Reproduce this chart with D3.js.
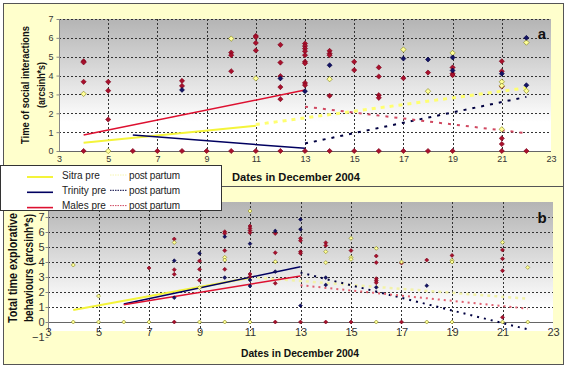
<!DOCTYPE html>
<html>
<head>
<meta charset="utf-8">
<script src="https://cdn.jsdelivr.net/npm/d3@7"></script>
<style>
  body { margin: 0; background: #fff; }
  svg text { font-family: "Liberation Sans", Arial, sans-serif; }
</style>
</head>
<body>
<div id="chart"></div>
<script>
// x ticks (dates in December 2004)
var dateTicks = [3, 5, 7, 9, 11, 13, 15, 17, 19, 21, 23];
var socialTicks = [0, 1, 2, 3, 4, 5, 6, 7];
var exploreTicks = [-1, 0, 1, 2, 3, 4, 5, 6, 7];

// panel a: time of social interactions, [date, value]
var socialMales = [
    [4, 4.76], [4, 4.7], [4, 3.67], [4, 0],
    [5, 3.67], [5, 3.2], [5, 1.67],
    [6, 0], [7, 0],
    [8, 3.72], [8, 3.45], [8, 0],
    [9, 0],
    [10, 5.22], [10, 5.08], [10, 4.23], [10, 0],
    [11, 6.1], [11, 6.04], [11, 5.73], [11, 5.33], [11, 0],
    [12, 5.63], [12, 4.69], [12, 3.97], [12, 3.39], [12, 2.75], [12, 0],
    [13, 5.7], [13, 5.57], [13, 5.43], [13, 5.29], [13, 5.08], [13, 4.73], [13, 4.65], [13, 3.61], [13, 3.49], [13, 0],
    [14, 5.31], [14, 5.17], [14, 5.08], [14, 2.93], [14, 0],
    [15, 4.73], [15, 4.29], [15, 0],
    [16, 4.43], [16, 3.95], [16, 2.96], [16, 2.82], [16, 0],
    [17, 3.86], [17, 0],
    [18, 4.16], [18, 0],
    [19, 4.43], [19, 4.1], [19, 4.02], [19, 0],
    [21, 4.76], [21, 4.23], [21, 3.42], [21, 0.67], [21, 0.37], [21, 0],
    [22, 0]
];
var socialTrinity = [
    [8, 3.24], [12, 3.85], [13, 3.17], [14, 4.55], [17, 4.9], [18, 4.85],
    [19, 4.96], [19, 4.27], [21, 4.1], [22, 6.0], [22, 3.49]
];
var socialSitra = [
    [4, 3.03], [5, 0], [10, 5.96], [11, 3.85], [14, 3.81], [17, 5.38], [18, 3.17],
    [19, 5.2], [21, 3.67], [21, 3.46], [21, 1.15], [22, 5.75], [22, 3.19]
];
// trend lines, [start, end]
var socialSitraPre = [[4, 0.44], [11, 1.34]];
var socialSitraPost = [[11, 1.4], [22, 3.35]];
var socialTrinityPre = [[6, 0.85], [13, 0.14]];
var socialTrinityPost = [[13, 0.4], [22, 2.87]];
var socialMalesPre = [[4, 0.85], [13, 3.23]];
var socialMalesPost = [[13, 2.35], [22, 0.94]];

// panel b: total time explorative behaviours, [date, value]
var exploreMales = [
    [7, 3.6], [8, 5.53], [8, 3.49], [8, 3.18], [8, 0],
    [9, 4.07], [9, 3.51], [9, 2.78],
    [10, 6.02], [10, 5.9], [10, 4.76], [10, 3.51],
    [11, 6.4], [11, 6.25], [11, 6.1], [11, 5.95], [11, 3.2], [11, 3.02],
    [12, 5.9], [12, 4.62], [12, 2.58], [12, 0],
    [13, 5.58], [13, 5.42], [13, 4.69], [13, 4.58], [13, 0],
    [14, 5.29], [14, 5.1], [14, 0],
    [15, 4.76], [15, 0],
    [16, 4.4], [16, 3.96], [16, 2.89], [16, 2.75], [16, 2.62],
    [17, 3.93], [17, 0],
    [18, 4.13],
    [19, 4.44],
    [21, 4.8], [21, 4.22], [21, 3.42], [21, 0.31]
];
var exploreTrinity = [
    [8, 4.09], [8, 1.62], [9, 4.58], [10, 5.69], [10, 2.96], [11, 5.22], [11, 2.8], [11, 2.4],
    [12, 6.07], [12, 3.36], [13, 6.84], [13, 6.18], [13, 1.09], [14, 2.96], [14, 2.47],
    [16, 2.31], [18, 2.42]
];
var exploreSitra = [
    [4, 3.8], [4, 0], [5, 1.73], [5, 0], [6, 0], [7, 0], [8, 5.3], [9, 2.29], [9, 0],
    [10, 4.31], [10, 4.13], [10, 0], [11, 7.4], [11, 0], [12, 4.02], [14, 4.69], [14, 3.96],
    [15, 5.58], [15, 4.31], [15, 4.18], [16, 4.91], [16, 0], [17, 4.0], [18, 0],
    [19, 4.11], [19, 4.0], [19, 0], [21, 5.31], [21, 0], [22, 3.64], [22, 0]
];
var exploreSitraPre = [[4, 0.8], [11, 2.95]];
var exploreSitraPost = [[11, 3.0], [22, 1.55]];
var exploreTrinityPre = [[6, 1.2], [13, 3.69]];
var exploreTrinityPost = [[13, 3.29], [22, -0.49]];
var exploreMalesPre = [[6, 1.15], [13, 3.07]];
var exploreMalesPost = [[13, 2.45], [22, 0.89]];

var legendRows = ["Sitra pre", "Trinity pre", "Males pre"];

var W = 574, H = 368;
var svg = d3.select("#chart").append("svg").attr("width", W).attr("height", H);

// square diamond like the Excel marker
var diamond = {
    draw: function (ctx, size) {
        var r = Math.sqrt(size / 2);
        ctx.moveTo(0, -r); ctx.lineTo(r, 0); ctx.lineTo(0, r); ctx.lineTo(-r, 0); ctx.closePath();
    }
};

var styles = {
    males: { fill: "#a8102c", stroke: "#780018" },
    trinity: { fill: "#141464", stroke: "#000040" },
    sitra: { fill: "#ffff99", stroke: "#7f7f10" }
};

var defs = svg.append("defs");
function gradient(id, stop) {
    var g = defs.append("linearGradient").attr("id", id)
        .attr("x1", 0).attr("y1", 0).attr("x2", 0).attr("y2", 1);
    g.append("stop").attr("offset", "0%").attr("stop-color", "#b4b4b4");
    g.append("stop").attr("offset", stop).attr("stop-color", "#ffffff");
}
gradient("plotA", "78%");
gradient("plotB", "82%");

// panel frames
svg.append("rect").attr("x", 3.5).attr("y", 3.5).attr("width", 560).attr("height", 183)
    .attr("fill", "#ffffcc").attr("stroke", "#555");
svg.append("rect").attr("x", 3.5).attr("y", 186.5).attr("width", 560).attr("height", 178)
    .attr("fill", "#ffffcc").attr("stroke", "#555");

function drawPanel(p) {
    var g = svg.append("g");
    var x = p.x, y = p.y;

    g.append("rect")
        .attr("x", x.range()[0]).attr("y", y.range()[1])
        .attr("width", x.range()[1] - x.range()[0])
        .attr("height", p.plotBottom - y.range()[1])
        .attr("fill", "url(#" + p.grad + ")");

    // horizontal grid
    g.selectAll(".hgrid").data(p.yTicks.filter(function (d) { return d > 0; }))
        .enter().append("line")
        .attr("x1", x.range()[0]).attr("x2", x.range()[1])
        .attr("y1", function (d) { return Math.round(y(d)) + 0.5; })
        .attr("y2", function (d) { return Math.round(y(d)) + 0.5; })
        .attr("stroke", "#333").attr("stroke-dasharray", "2,2");

    // vertical grid
    g.selectAll(".vgrid").data(dateTicks.slice(1, -1))
        .enter().append("line")
        .attr("x1", function (d) { return Math.round(x(d)) + 0.5; })
        .attr("x2", function (d) { return Math.round(x(d)) + 0.5; })
        .attr("y1", y.range()[1]).attr("y2", p.plotBottom)
        .attr("stroke", "#333").attr("stroke-dasharray", "2,2");

    // axis lines
    g.append("line").attr("x1", x.range()[0]).attr("x2", x.range()[1])
        .attr("y1", Math.round(y(0)) + 0.5).attr("y2", Math.round(y(0)) + 0.5)
        .attr("stroke", "#666");
    g.append("line").attr("x1", x.range()[0] + 0.5).attr("x2", x.range()[0] + 0.5)
        .attr("y1", y.range()[1]).attr("y2", p.plotBottom)
        .attr("stroke", "#888");

    var yAxis = d3.axisLeft(y).tickValues(p.yTicks).tickFormat(d3.format("d"))
        .tickSize(3).tickPadding(p.yPad);
    var ya = g.append("g").attr("transform", "translate(" + (x.range()[0] + 0.5) + ",0)").call(yAxis);
    ya.select(".domain").remove();
    ya.selectAll("line").attr("stroke", "#888");
    ya.selectAll("text").attr("font-size", p.tickFont).attr("fill", "#333");

    var xAxis = d3.axisBottom(x).tickValues(dateTicks).tickFormat(d3.format("d"))
        .tickSize(0).tickPadding(p.xPad);
    var xa = g.append("g").attr("transform", "translate(0," + p.xAxisY + ")").call(xAxis);
    xa.select(".domain").remove();
    xa.selectAll("text").attr("font-size", p.tickFont).attr("fill", "#333");

    // trend lines
    var line = d3.line().x(function (d) { return x(d[0]); }).y(function (d) { return y(d[1]); });
    p.trends.forEach(function (t) {
        g.append("path").datum(t.data).attr("d", line)
            .attr("fill", "none").attr("stroke", t.color).attr("stroke-width", t.width)
            .attr("stroke-dasharray", t.dash || null);
    });

    // points
    var sym = d3.symbol().type(diamond);
    p.series.forEach(function (s) {
        g.selectAll(null).data(s.data).enter().append("path")
            .attr("d", sym.size(2 * s.r * s.r)())
            .attr("transform", function (d) { return "translate(" + x(d[0]) + "," + y(d[1]) + ")"; })
            .attr("fill", s.style.fill).attr("stroke", s.style.stroke).attr("stroke-width", 0.6);
    });

    // axis titles
    p.yTitle.forEach(function (t, i) {
        g.append("text")
            .attr("transform", "translate(" + p.yTitleX[i] + "," + p.yTitleY + ") rotate(-90)")
            .attr("text-anchor", "middle").attr("dominant-baseline", "central")
            .attr("font-size", p.titleFont).attr("font-weight", "bold").attr("fill", "#111")
            .attr("textLength", p.yTitleLen[i]).attr("lengthAdjust", "spacingAndGlyphs")
            .text(t);
    });
    g.append("text").attr("x", p.xTitleX).attr("y", p.xTitleY)
        .attr("text-anchor", "middle").attr("font-size", 11).attr("font-weight", "bold").attr("fill", "#111")
        .attr("textLength", p.xTitleLen).attr("lengthAdjust", "spacingAndGlyphs")
        .text("Dates in December 2004");

    g.append("text").attr("x", 542).attr("y", p.letterY).attr("text-anchor", "middle")
        .attr("font-size", 15).attr("font-weight", "bold").attr("fill", "#111").text(p.letter);
}

var xA = d3.scaleLinear().domain([3, 23]).range([59, 551]);
var yA = d3.scaleLinear().domain([0, 7]).range([151, 19]);
drawPanel({
    x: xA, y: yA, grad: "plotA", plotBottom: 151, yTicks: socialTicks,
    yPad: 3, xPad: 5, xAxisY: 151, tickFont: 9,
    yTitle: ["Time of social interactions", "(arcsinh*s)"], yTitleX: [25, 41], yTitleY: 85,
    yTitleLen: [118, 46], titleFont: 11,
    xTitleX: 296, xTitleY: 181, xTitleLen: 128,
    letter: "a", letterY: 39,
    trends: [
        { data: socialSitraPre, color: "#f4f43a", width: 2 },
        { data: socialSitraPost, color: "#ffff70", width: 3, dash: "4,5" },
        { data: socialTrinityPre, color: "#000060", width: 1.5 },
        { data: socialTrinityPost, color: "#000040", width: 2, dash: "3,6" },
        { data: socialMalesPre, color: "#dd1030", width: 1.5 },
        { data: socialMalesPost, color: "#d04860", width: 2, dash: "3,6" }
    ],
    series: [
        { data: socialMales, style: styles.males, r: 2.6 },
        { data: socialSitra, style: styles.sitra, r: 2.7 },
        { data: socialTrinity, style: styles.trinity, r: 2.5 }
    ]
});

var xB = d3.scaleLinear().domain([3, 23]).range([48, 553]);
var yB = d3.scaleLinear().domain([-1, 8]).range([337, 202]);
drawPanel({
    x: xB, y: yB, grad: "plotB", plotBottom: 331, yTicks: exploreTicks,
    yPad: 1, xPad: 0, xAxisY: 328, tickFont: 11,
    yTitle: ["Total time explorative", "behaviours (arcsinh*s)"], yTitleX: [13, 29], yTitleY: 268,
    yTitleLen: [110, 108], titleFont: 12,
    xTitleX: 300, xTitleY: 357, xTitleLen: 118,
    letter: "b", letterY: 223,
    trends: [
        { data: exploreSitraPre, color: "#f4f43a", width: 2 },
        { data: exploreSitraPost, color: "#f2f2a8", width: 2.5, dash: "3,4" },
        { data: exploreTrinityPre, color: "#000060", width: 1.5 },
        { data: exploreTrinityPost, color: "#000040", width: 2, dash: "2,5" },
        { data: exploreMalesPre, color: "#dd1030", width: 1.5 },
        { data: exploreMalesPost, color: "#e06070", width: 2, dash: "2,4" }
    ],
    series: [
        { data: exploreMales, style: styles.males, r: 2 },
        { data: exploreSitra, style: styles.sitra, r: 2 },
        { data: exploreTrinity, style: styles.trinity, r: 1.9 }
    ]
});

// legend
var legend = svg.append("g");
legend.append("rect").attr("x", 0.5).attr("y", 165.5).attr("width", 221).attr("height", 45)
    .attr("fill", "#fff").attr("stroke", "#333");
var preColors = ["#f4f43a", "#000060", "#dd1030"];
var postColors = ["#f6f6b0", "#000040", "#d04860"];
legendRows.forEach(function (name, i) {
    var ly = 175 + i * 15.3;
    legend.append("line").attr("x1", 27).attr("x2", 53).attr("y1", ly + 2).attr("y2", ly + 2)
        .attr("stroke", preColors[i]).attr("stroke-width", i === 0 ? 2 : 1.6);
    legend.append("text").attr("x", 62).attr("y", ly).attr("dominant-baseline", "central")
        .attr("font-size", 10).attr("fill", "#222").text(name);
    legend.append("line").attr("x1", 110).attr("x2", 127).attr("y1", ly).attr("y2", ly)
        .attr("stroke", postColors[i]).attr("stroke-width", 1).attr("stroke-dasharray", "1.5,1");
    legend.append("text").attr("x", 129).attr("y", ly).attr("dominant-baseline", "central")
        .attr("font-size", 10).attr("fill", "#222").attr("textLength", 51).text("post partum");
});
</script>
</body>
</html>
